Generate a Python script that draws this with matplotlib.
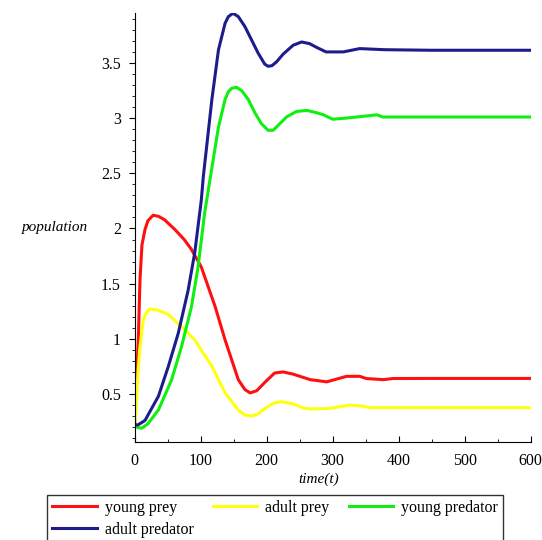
import matplotlib
matplotlib.use('Agg')
import matplotlib.pyplot as plt
from matplotlib.ticker import MultipleLocator

plt.rcParams['font.family'] = ['Liberation Serif', 'DejaVu Serif']

# valori (tempo, popolazione)
t_young_prey = [0, 2, 4, 5.5, 8, 11, 15.6, 20, 28, 36, 45, 61, 75, 86, 101, 122, 137, 157, 167, 175,
                185, 198, 212, 225, 240, 266, 291, 321, 341, 351, 377, 391, 450, 600]
young_prey = [0.2, 0.45, 0.8, 0.99, 1.53, 1.85, 1.99, 2.07, 2.12, 2.11, 2.08, 1.99, 1.9, 1.81, 1.65,
              1.29, 0.99, 0.63, 0.54, 0.51, 0.53, 0.61, 0.69, 0.70, 0.68, 0.63, 0.61, 0.66, 0.66,
              0.64, 0.63, 0.64, 0.641, 0.641]

t_adult_prey = [0, 2, 5, 8, 13, 18, 23, 35, 51, 76, 91, 117, 137, 157, 167, 177, 187, 200, 212,
                223, 240, 255, 266, 297, 326, 346, 356, 450, 600]
adult_prey = [0.2, 0.35, 0.7, 0.93, 1.17, 1.24, 1.27, 1.26, 1.22, 1.08, 0.99, 0.75, 0.51, 0.355,
              0.31, 0.30, 0.32, 0.38, 0.42, 0.43, 0.41, 0.375, 0.364, 0.37, 0.40, 0.39, 0.376,
              0.376, 0.376]

t_young_pred = [0, 5, 10.6, 20, 36, 56, 71, 86, 96, 106, 114, 127, 137, 142, 147, 154, 162, 172,
                182, 192, 202, 210, 220, 230, 245, 261, 275, 286, 300, 320, 336, 367, 376, 450, 600]
young_pred = [0.21, 0.195, 0.19, 0.23, 0.355, 0.63, 0.93, 1.29, 1.65, 2.14, 2.44, 2.92, 3.17, 3.24,
              3.27, 3.28, 3.25, 3.17, 3.05, 2.95, 2.89, 2.89, 2.95, 3.01, 3.06, 3.07, 3.05, 3.03,
              2.99, 3.0, 3.01, 3.03, 3.01, 3.01, 3.01]

t_adult_pred = [0, 5, 15.6, 36, 51, 66, 81, 91, 101, 104, 117, 127, 137, 142, 149, 157, 167, 177,
                187, 197, 202, 208, 215, 225, 240, 253, 265, 276, 290, 316, 341, 379, 450, 600]
adult_pred = [0.22, 0.22, 0.26, 0.48, 0.75, 1.05, 1.44, 1.78, 2.26, 2.47, 3.17, 3.62, 3.86, 3.92,
              3.95, 3.92, 3.83, 3.71, 3.59, 3.49, 3.47, 3.475, 3.51, 3.58, 3.66, 3.69, 3.675, 3.64,
              3.60, 3.60, 3.63, 3.62, 3.615, 3.615]

fig = plt.figure(figsize=(5.42, 5.40), dpi=100)
ax = fig.add_axes([0.2485, 0.1815, 0.7305, 0.7945])

lw = 2.2
l1, = ax.plot(t_young_prey, young_prey, color='#ff1010', lw=lw, label='young prey')
l2, = ax.plot(t_adult_prey, adult_prey, color='#ffff10', lw=lw, label='adult prey')
l3, = ax.plot(t_young_pred, young_pred, color='#10f010', lw=lw, label='young predator')
l4, = ax.plot(t_adult_pred, adult_pred, color='#1c1c8c', lw=lw, label='adult predator')

ax.set_xlim(0, 600)
ax.set_ylim(0.065, 3.953)
ax.spines['top'].set_visible(False)
ax.spines['right'].set_visible(False)
ax.set_xticks([0, 100, 200, 300, 400, 500, 600])
ax.set_yticks([0.5, 1, 1.5, 2, 2.5, 3, 3.5])
ax.set_yticklabels(['0.5', '1', '1.5', '2', '2.5', '3', '3.5'])
ax.xaxis.set_minor_locator(MultipleLocator(50))
ax.yaxis.set_minor_locator(MultipleLocator(0.1))
ax.tick_params(axis='x', direction='in', labelsize=11.5, length=4, pad=8)
ax.tick_params(axis='x', which='minor', direction='in', length=2)
ax.tick_params(axis='y', direction='out', labelsize=11.5, length=4, pad=6)
ax.tick_params(axis='y', which='minor', direction='out', length=2)

ax.set_xlabel('time(t)', style='italic', fontsize=11)
ax.xaxis.set_label_coords(0.465, -0.072)
ax.set_ylabel('population', style='italic', fontsize=11, rotation=0, ha='center', va='center')
ax.yaxis.set_label_coords(-0.201, 0.499)

leg = fig.legend([l1, l4, l2, l3], ['young prey', 'adult predator', 'adult prey', 'young predator'],
                 ncol=3, loc='upper left', bbox_to_anchor=(0.072, 0.0985), fontsize=11.5,
                 frameon=True, fancybox=False, edgecolor='black', handlelength=2.8,
                 columnspacing=1.2, handletextpad=0.5, borderpad=0.3, labelspacing=0.4)
leg.get_frame().set_linewidth(1.0)

fig.savefig('out.png', dpi=100)
